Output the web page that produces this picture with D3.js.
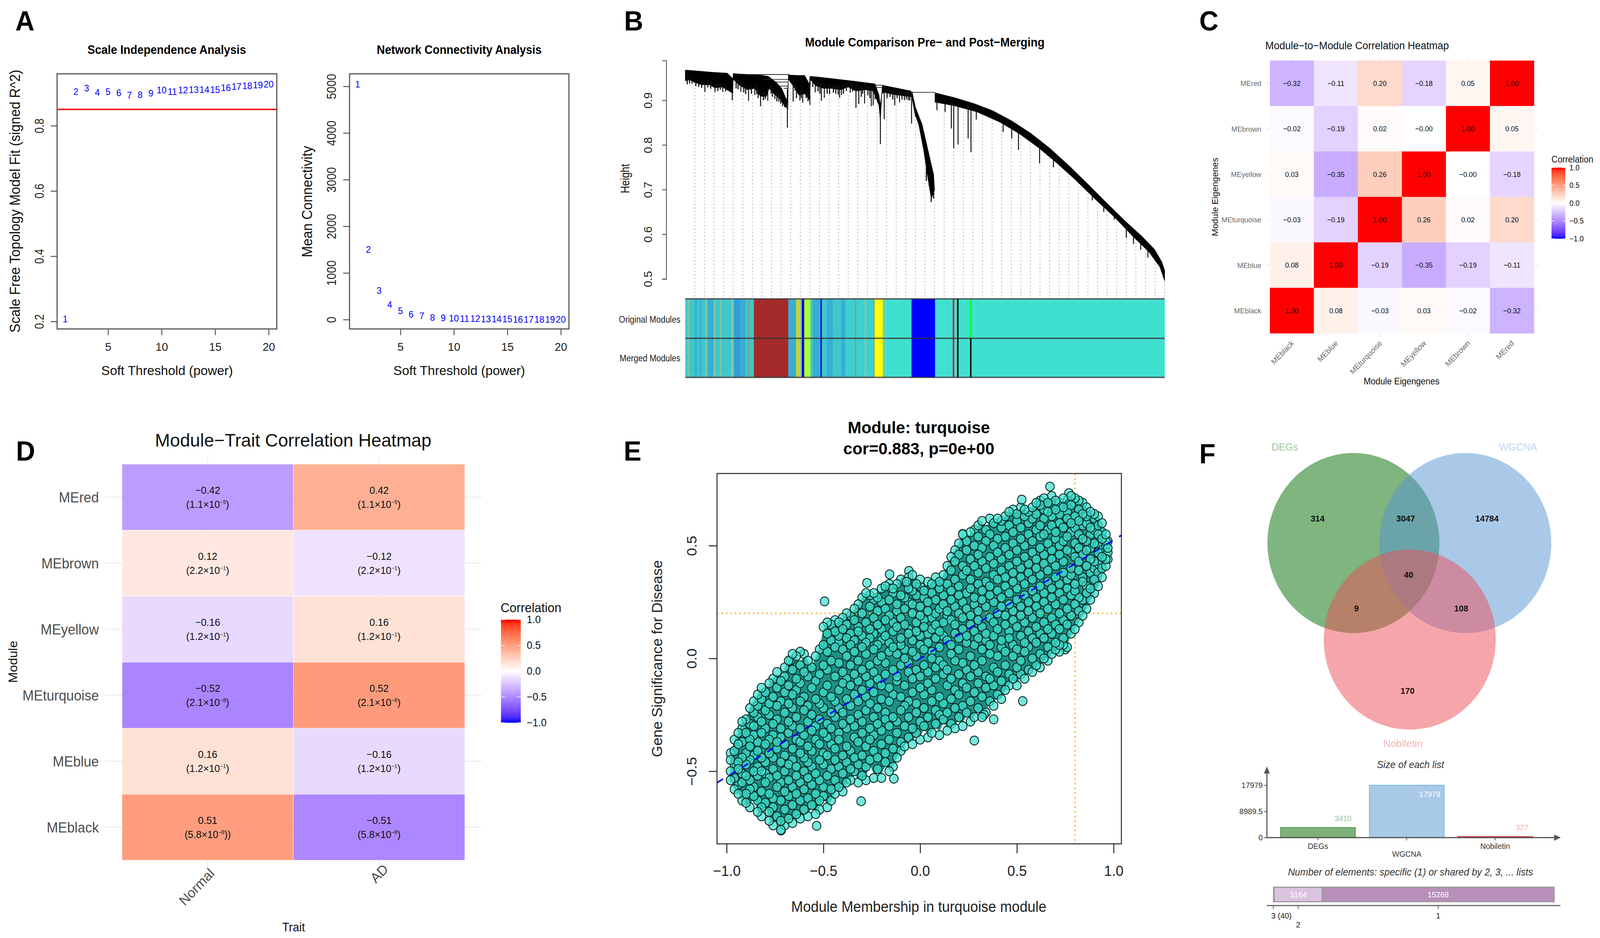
<!DOCTYPE html>
<html><head><meta charset="utf-8">
<script src="https://d3js.org/d3.v7.min.js"></script>
<style>html,body{margin:0;padding:0;background:#fff;overflow:hidden;width:100vw;height:100vh}svg{display:block;width:100vw;height:100vh}text{font-family:"Liberation Sans",Arial,sans-serif}</style>
</head><body><svg id="c" viewBox="0 0 4289 2401" preserveAspectRatio="none"></svg>
<script>
/* ---------- DATA ---------- */
const powers=d3.range(1,21);
const scaleFit=[.207,.905,.915,.902,.904,.901,.894,.895,.900,.909,.904,.909,.910,.911,.911,.917,.920,.923,.925,.927];
const meanConn=[5047,1507,622,320,188,115,78,47,35,28,22,17,14,11,9,8,6,5,4,4];
const fitCut=.85;
// dendrogram envelope: [gene-order %, height]
const forestTop=[[0,.968],[5.8,.963],[8.8,.961],[9.9,.9486],[10,.960],[13.4,.958],[16.1,.956],[17.3,.954],[18.9,.941],[20.1,.927],[21.3,.897],[21.4,.880],[21.5,.957],[23.3,.956],[24.9,.956],[25.9,.936],[26,.954],[28,.952],[35.2,.943],[39.6,.937],[40.4,.912],[40.7,.889],[41,.918],[41.1,.934],[47.1,.921]];
const forestBottom=[[0,.944],[1,.946],[1.8,.941],[3.4,.935],[5,.935],[6.2,.928],[7.8,.930],[9,.922],[9.9,.916],[10,.947],[11.4,.933],[13,.924],[14.5,.927],[15.7,.909],[16.9,.909],[17.5,.927],[18.5,.915],[19.7,.903],[21.1,.883],[21.5,.947],[22.5,.933],[23.7,.912],[24.9,.915],[26,.900],[26.1,.947],[27.2,.933],[28.8,.927],[30.4,.927],[32.4,.924],[34,.930],[35.6,.921],[37.6,.924],[39.2,.921],[40.4,.889],[40.7,.854],[41,.915],[41.5,.918],[43.1,.914],[47.1,.908]];
const fallTop=[[47.3,.920],[48,.885],[49.4,.846],[50.6,.790],[51.8,.734],[52,.700]];
const fallBottom=[[47.3,.905],[47.9,.870],[48.7,.846],[49.7,.790],[50.5,.734],[51.3,.680],[51.7,.690],[52,.700]];
const treeTop=[[52.1,.917],[56.2,.906],[60.2,.893],[64.1,.877],[68.1,.854],[72.1,.826],[76,.793],[80,.754],[84,.712],[87.9,.670],[91.9,.628],[95.1,.597],[97.9,.566],[99.4,.538],[100,.519]];
const treeBottom=[[52.1,.896],[56.2,.888],[60.9,.874],[65.7,.851],[69.6,.826],[73.6,.795],[77.6,.759],[81.6,.720],[85.6,.678],[89.5,.639],[93.5,.594],[96.7,.561],[99,.527],[100,.496]];
const branchSpikes=[[1.4,.937],[4.1,.919],[6.2,.919],[7.8,.919],[9.8,.900],[11.6,.919],[13.2,.899],[14.5,.912],[15.7,.887],[17.2,.899],[18.7,.903],[19.5,.897],[20.3,.887],[21.3,.839],[22.5,.897],[23.9,.900],[24.5,.895],[26,.890],[27.1,.918],[28.4,.899],[29,.906],[32.2,.906],[32.6,.912],[34.4,.917],[35.6,.883],[36.2,.892],[37.4,.893],[38.8,.887],[39.2,.889],[40.7,.802],[41.5,.858],[43.7,.889],[44.7,.896],[45.7,.900],[46.5,.900],[47.2,.848],[48,.864],
 [52.5,.878],[54.2,.874],[55.5,.837],[56,.793],[56.9,.801],[59,.815],[59.6,.784],[60.7,.857],[66.3,.829],[68.1,.815],[69.5,.789],[73.9,.759],[76.8,.750],[84.9,.676],[87.3,.650],[89.5,.633],[92,.592],[93.5,.578],[95,.565],[96.5,.548]];
const fineSpikes=[[.4,.936],[.9,.938],[2.2,.932],[2.8,.930],[3.4,.928],[4.7,.929],[5.3,.926],[6.8,.921],[7.3,.924],[8.4,.920],[10.6,.927],[11,.925],[12.2,.918],[12.6,.914],[13.8,.915],[14.9,.914],[15.2,.905],[16.3,.900],[16.7,.903],[17.9,.915],[18.2,.908],[19.1,.898],[19.9,.893],[20.7,.885],[22.9,.922],[23.2,.905],[24.2,.905],[25.2,.905],[25.6,.898],[26.6,.930],[27.7,.920],[28.1,.915],[29.6,.915],[30.1,.914],[30.9,.917],[31.4,.915],[31.9,.913],[33,.915],[33.6,.921],[34.9,.920],[36.7,.908],[37,.915],[38.1,.912],[38.5,.905],[39.6,.903],[42.1,.905],[42.7,.908],[43.3,.902],[44.2,.905],[45.2,.902],[46.1,.903],[46.8,.900],[50.3,.72],[50.9,.708],[51.3,.672],[51.8,.68]];
const mergeBars=[[9.9,21.7,.958],[16.1,21.5,.947],[18.9,21.5,.941],[19.7,21.5,.932],[20.5,21.5,.927],[39.5,41.1,.934],[39.5,41.1,.929],[47.3,52.1,.918]];
const guidePct=d3.range(2,101,2);
const moduleEnds=[.5,.8,2,2.4,3,3.3,4.2,4.6,5.9,6.3,7.2,7.5,9.5,10.1,11.5,12.5,13.1,13.4,14.3,21.5,23.1,24,24.3,24.8,26.1,26.6,28.2,28.5,29.5,30.8,32.5,33.4,35.4,35.7,37.4,37.8,39.3,39.5,41.2,41.6,47.2,52.1,55.8,56.1,56.7,57,59.4,59.7,100];
const moduleNames=["mixA","olive","mixA","mixB","mixA","mixB","mixA","olive","mixB","olive","mixA","olive","mixA","olive","mixC","mixB","mixA","grey","mixA","brown","mixB","ylw2","olive","blue","greenyellow","mixA","mixB","blue","mixA","mixB","mixA","mixB","turq2","grey","turq2","olive","turq2","grey","yellow","olive","turquoise","blue","turquoise","red","turquoise","black","turquoise","green","turquoise"];
const moduleColor={turquoise:"#40E0D0",turq2:"#3cd0cf",mixA:"#3fc7cc",mixB:"#37aed4",mixC:"#2f9fd8",olive:"#7fc8a8",grey:"#7f9f90",brown:"#A52A2A",yellow:"#FFFF00",ylw2:"#c5d43a",greenyellow:"#ADFF2F",blue:"#0000FF",red:"#FF0000",black:"#000000",green:"#00FF00"};

const mods=["MEblack","MEblue","MEturquoise","MEyellow","MEbrown","MEred"];
const modsTop=["MEred","MEbrown","MEyellow","MEturquoise","MEblue","MEblack"];
const moduleCorr=[[-.32,-.11,.20,-.18,.05,1],[-.02,-.19,.02,-.001,1,.05],[.03,-.35,.26,1,-.001,-.18],[-.03,-.19,1,.26,.02,.20],[.08,1,-.19,-.35,-.19,-.11],[1,.08,-.03,.03,-.02,-.32]];
const traits=["Normal","AD"];
const traitCorr=[-.42,.12,-.16,-.52,.16,.51];
const traitP=["1.1","2.2","1.2","2.1","1.2","5.8"];
const traitExp=["5","1","1","8","1","8"];
const legendTicks=[-1,-.5,0,.5,1];

// E: gene significance (hundredths) per module-membership column (hundredths)
const mmColumns=[-98,-96,-94,-92,-90,-88,-86,-84,-82,-80,-78,-76,-74,-72,-70,-68,-66,-64,-62,-60,-58,-56,-54,-52,-50,-48,-46,-44,-42,-40,-38,-36,-34,-32,-30,-28,-26,-24,-22,-20,-18,-16,-14,-12,-10,-8,-6,-4,-2,0,2,4,6,8,10,12,14,16,18,20,22,24,26,28,30,32,34,36,38,40,42,44,46,48,50,52,54,56,58,60,62,64,66,68,70,72,74,76,78,80,82,84,86,88,90,92,94,96,97];
const gsByColumn=[
[-54,-50,-45,-42],[-58,-53,-47,-41,-36],[-60,-56,-49,-46,-38,-33],[-63,-55,-51,-44,-37,-31,-28],[-64,-60,-52,-47,-42,-33,-27],[-66,-58,-54,-45,-39,-36,-29,-22],[-61,-57,-50,-43,-34,-30,-24,-19],[-68,-63,-52,-48,-41,-37,-26,-21,-16],[-70,-66,-59,-50,-44,-33,-28,-18,-13],[-64,-55,-51,-46,-38,-31,-23,-15],
[-72,-68,-60,-53,-42,-36,-25,-20,-11],[-74,-66,-62,-49,-44,-34,-29,-17,-9],[-70,-57,-52,-40,-37,-27,-21,-13,-6],[-76,-72,-63,-55,-46,-35,-31,-19,-10],[-74,-67,-59,-50,-43,-38,-24,-15,-8,-4],[-71,-61,-54,-47,-33,-28,-20,-12,-1],[-73,-65,-57,-45,-40,-30,-22,-16,-5,2],[-69,-60,-52,-48,-36,-26,-14,-9,1],[-71,-63,-55,-42,-37,-31,-19,-11,-3],[-67,-58,-50,-44,-34,-23,-17,-6,2],
[-70,-62,-53,-46,-39,-28,-21,-8,-1],[-65,-56,-48,-41,-32,-25,-13,-4],[-69,-60,-51,-36,-30,-18,-10,1],[-67,-63,-54,-45,-38,-27,-20,-7,4],[-61,-57,-47,-42,-33,-22,-15,-3,6,14],[-66,-52,-43,-35,-29,-12,-5,3,11,16],[-63,-58,-49,-38,-31,-24,-17,-1,8,15],[-60,-54,-45,-40,-26,-19,-8,5,12,17],[-57,-48,-36,-33,-22,-14,-2,7,10,16],[-59,-51,-43,-29,-24,-11,-6,4,13,18],
[-55,-46,-39,-31,-18,-9,1,9,15,20],[-54,-49,-41,-27,-21,-12,-3,6,11,19],[-50,-44,-35,-30,-16,-7,3,8,17,22],[-55,-47,-37,-25,-19,-10,-1,12,14,24],[-52,-43,-33,-28,-14,-5,5,10,20,27],[-54,-48,-39,-23,-17,-8,2,7,16,29],[-45,-36,-31,-20,-11,-3,9,13,23,28],[-53,-41,-34,-26,-15,-6,4,11,18,26],[-49,-44,-29,-22,-9,-1,6,15,21,27],[-53,-38,-32,-18,-12,1,8,13,25,31],
[-46,-42,-27,-24,-7,-2,10,17,22,32],[-50,-36,-30,-19,-13,3,7,19,26,33],[-48,-40,-26,-16,-5,5,12,16,29,31],[-44,-33,-28,-10,-8,2,14,21,24,33],[-41,-37,-23,-17,-3,6,9,18,28,35],[-39,-30,-21,-12,0,4,15,22,27,34],[-35,-26,-19,-6,-2,11,13,25,31,36],[-38,-31,-15,-9,3,8,20,24,30,37],[-33,-24,-20,-5,1,12,16,28,33],[-36,-28,-13,-8,6,10,19,23,32,35],
[-30,-22,-16,-3,4,14,17,27,30],[-35,-26,-11,-6,7,11,21,25,34],[-33,-19,-14,0,3,13,18,29,33],[-29,-23,-9,-4,9,15,20,26,36],[-34,-25,-17,-1,5,12,22,31,34],[-27,-20,-7,-3,10,16,24,28,37],[-32,-24,-12,-5,8,19,21,33,41],[-29,-18,-9,2,6,17,26,30,39,45],[-31,-22,-14,-1,11,15,23,35,43,48],[-26,-16,-7,4,9,20,28,32,46,51],
[-30,-21,-11,-2,13,18,25,37,41,55],[-24,-13,-5,7,10,22,29,39,48,52],[-28,-19,-8,1,15,19,31,35,44,56],[-26,-15,-3,6,12,24,27,41,50,57],[-22,-11,-6,9,17,21,33,38,46,54,59],[-26,-17,-1,4,14,26,30,43,49,61],[-24,-13,-8,8,11,23,34,40,52,57],[-19,-9,2,6,18,28,32,45,55,62],[-21,-12,-4,10,16,25,37,42,50,60],[-16,-6,1,13,20,30,35,47,53,62],
[-18,-10,5,8,23,27,39,44,58,61],[-14,-3,3,15,19,32,36,49,54,63],[-12,-7,9,12,24,29,41,46,59,65],[-9,1,6,17,21,34,38,51,56,66],[-12,-4,4,14,26,31,43,48,61,64],[-7,-1,10,19,23,36,40,53,58,67],[-9,3,7,16,28,33,45,50,63,66],[-5,5,12,21,25,38,42,55,60,65],[-6,0,9,18,30,35,47,52,62,67],[-3,7,14,23,27,40,44,57,64,69],
[-4,2,11,20,32,37,49,54,59,68,70],[0,9,16,25,29,42,46,55,62,66,71],[-1,5,13,22,34,39,51,57,65,69],[2,11,18,27,31,44,48,59,63,72],[4,7,15,24,36,41,53,56,66,70],[3,13,20,29,33,46,50,60,64,69],[6,9,17,26,38,43,52,58,67,71],[5,15,22,31,35,48,54,62,65,70],[11,19,28,37,40,47,56,60,68,72],[13,24,30,33,45,51,58,63,69,71],
[16,21,27,39,43,49,55,61,66,70],[19,26,34,36,46,53,59,64,69],[22,29,32,41,48,52,60,63,67],[26,31,38,44,49,55,58,65],[29,35,40,43,51,57,62,64],[32,38,42,47,50,55,59,63],[36,40,45,48,53,56,60],[41,44,47,50,52,55],[44,47,49,52]];
const gsOutliers=[[67.1,76.2],[52.5,70.4],[-49.4,25.3],[-30.5,-63.3],[-53.5,-74.2],[-71.9,-76.3],[28,-36.4],[-13.6,-53.3],[53,-18.9],[-62,3],[-67,-.9],[-15.8,37.3],[-27.5,33.5],[-5.8,38.8],[22,55.2],[76.9,73.3],[-15,31],[-24,29],[-7,34],[75,4],[72,6],[38,-27],[33,-25]];
const fitLine=[[-1.05,-.551],[1.04,.546]];
const guideMM=.8,guideGS=.2;

const vennSets=["DEGs","WGCNA","Nobiletin"];
const listSizes=[3410,17979,327];
const overlapCounts=[40,3164,15268];
const overlapTicks=["3 (40)","2","1"];
const vennCounts=[314,3047,14784,40,9,108,170];

/* ---------- HELPERS ---------- */
const svg=d3.select("#c");
svg.append("rect").attr("width",4289).attr("height",2401).attr("fill","#fff");
function T(p,o){
  const e=p.append("text").attr("transform",`translate(${o.x},${o.y})`+(o.r?` rotate(${o.r})`:""))
   .attr("font-size",o.s).attr("text-anchor",o.a||"middle").attr("fill",o.f||"#000").text(o.t);
  if(o.w)e.attr("font-weight","bold");
  if(o.i)e.attr("font-style","italic");
  if(o.l)e.attr("textLength",o.l).attr("lengthAdjust","spacingAndGlyphs");
  return e;
}
[["A",41,78],["B",1673,78],["C",3215,78],["D",43,1179],["E",1672,1179],["F",3215,1186]].forEach(d=>T(svg,{x:d[1],y:d[2],t:d[0],s:71,w:1,a:"start"}));
const corrColor=v=>v<0?d3.interpolateLab("#ffffff","#0000ff")(-v):d3.interpolateLab("#ffffff","#ff0000")(v);
const sgn=v=>(v<0?"\u2212":"")+Math.abs(v).toFixed(2);

/* ---------- A ---------- */
function rAxes(g,x,y,yt,ybase,box){
  const [L,R,Tp,B]=box;
  const ax=g.append("g").attr("transform",`translate(0,${B})`).call(d3.axisBottom(x).tickValues([5,10,15,20]).tickSize(16).tickFormat(d3.format("d")));
  ax.select(".domain").remove();
  ax.selectAll("line").attr("stroke","#555").attr("stroke-width",2.5);
  ax.selectAll("text").attr("y",56).attr("dy",0).attr("font-size",30).attr("font-family","Liberation Sans").attr("fill","#222");
  const ay=g.append("g").attr("transform",`translate(${L},0)`).call(d3.axisLeft(y).tickValues(yt).tickSize(17));
  ay.select(".domain").remove();
  ay.selectAll("line").attr("stroke","#555").attr("stroke-width",2.5);
  ay.selectAll("text").attr("x",0).attr("dy",0).attr("y",ybase-L).attr("transform","rotate(-90)").attr("text-anchor","middle").attr("font-size",34).attr("font-family","Liberation Sans").attr("fill","#222");
  g.append("rect").attr("x",L).attr("y",Tp).attr("width",R-L).attr("height",B-Tp).attr("fill","none").attr("stroke","#555").attr("stroke-width",3);
  return ay;
}
{
 const g=svg.append("g");
 const x1=d3.scaleLinear([.24,20.76],[153,742]),y1=d3.scaleLinear([.177,.959],[842,189]);
 const ay=rAxes(g,x1,y1,[.2,.4,.6,.8],117,[153,742,189,842]);
 ay.selectAll("text").attr("textLength",38).attr("lengthAdjust","spacingAndGlyphs");
 g.append("line").attr("x1",153).attr("x2",742).attr("y1",y1(fitCut)).attr("y2",y1(fitCut)).attr("stroke","#f00").attr("stroke-width",3.5);
 g.selectAll(".p").data(powers).join("text").attr("x",d=>x1(d)).attr("y",(d,i)=>y1(scaleFit[i])+8.5).attr("text-anchor","middle").attr("font-size",24).attr("fill","#0000ff").text(d=>d);
 T(g,{x:447,y:138,t:"Scale Independence Analysis",s:32,w:1,l:425});
 T(g,{x:448,y:960,t:"Soft Threshold (power)",s:33,l:353,f:"#111"});
 T(g,{x:53,y:515,r:-90,t:"Scale Free Topology Model Fit (signed R^2)",s:38,l:673,f:"#111"});

 const x2=d3.scaleLinear([.24,20.76],[937,1525]),y2=d3.scaleLinear([-201,5268],[842,189]);
 const ay2=rAxes(g,x2,y2,[0,1000,2000,3000,4000,5000],901,[937,1525,189,842]);
 ay2.selectAll("text").text(d=>d).attr("textLength",d=>d?65:16).attr("lengthAdjust","spacingAndGlyphs");
 g.selectAll(".q").data(powers).join("text").attr("x",d=>x2(d)).attr("y",(d,i)=>y2(meanConn[i])+8.5).attr("text-anchor","middle").attr("font-size",24).attr("fill","#0000ff").text(d=>d);
 T(g,{x:1231,y:138,t:"Network Connectivity Analysis",s:32,w:1,l:442});
 T(g,{x:1231,y:960,t:"Soft Threshold (power)",s:33,l:353,f:"#111"});
 T(g,{x:837,y:516,r:-90,t:"Mean Connectivity",s:38,l:285,f:"#111"});
}

/* ---------- B ---------- */
{
 const g=svg.append("g");
 const X=d3.scaleLinear([0,100],[1837,3122]),Y=d3.scaleLinear([.5,.9],[714,257]);
 const allBottom=forestBottom.concat(treeBottom);
 const at=(arr,p)=>{const i=d3.bisector(d=>d[0]).left(arr,p);const a=arr[Math.max(0,i-1)],b=arr[Math.min(arr.length-1,i)];if(a===b)return a[1];return a[1]+(b[1]-a[1])*(p-a[0])/(b[0]-a[0]);};
 const floor=p=>p>47.3&&p<52.1?at(fallBottom,p):at(allBottom,p);
 g.selectAll(".g").data(guidePct).join("line").attr("x1",d=>X(d)).attr("x2",d=>X(d)).attr("y1",759)
  .attr("y2",d=>Y(floor(d))).attr("stroke","#aaa").attr("stroke-width",2).attr("stroke-dasharray","3 6");
 const poly=d3.line().x(d=>X(d[0])).y(d=>Y(d[1]));
 [[forestTop,forestBottom],[fallTop,fallBottom],[treeTop,treeBottom]].forEach(([a,b])=>{
  g.append("path").attr("d",poly(a.concat(b.slice().reverse()))+"Z").attr("fill","#000").attr("stroke","#000").attr("stroke-width",1.2).attr("stroke-linejoin","round");
 });
 g.selectAll(".f").data(fineSpikes).join("line").attr("x1",d=>X(d[0])).attr("x2",d=>X(d[0])).attr("y1",d=>Y(floor(d[0])+.01)).attr("y2",d=>Y(d[1])).attr("stroke","#111").attr("stroke-width",3);
 g.selectAll(".s").data(branchSpikes).join("line").attr("x1",d=>X(d[0])).attr("x2",d=>X(d[0])).attr("y1",d=>Y(floor(d[0])+.01)).attr("y2",d=>Y(d[1])).attr("stroke","#111").attr("stroke-width",2.6);
 g.selectAll(".m").data(mergeBars).join("line").attr("x1",d=>X(d[0])).attr("x2",d=>X(d[1])).attr("y1",d=>Y(d[2])).attr("y2",d=>Y(d[2])).attr("stroke","#222").attr("stroke-width",1.8);
 const ay=g.append("g").attr("transform","translate(1786,0)").call(d3.axisLeft(d3.scaleLinear([.5,.989],[714,155])).tickValues([.5,.6,.7,.8,.9]).tickSize(11).tickFormat(d3.format(".1f")));
 ay.selectAll(".domain").attr("stroke","#444").attr("stroke-width",2);
 ay.selectAll("line").attr("stroke","#444").attr("stroke-width",2);
 ay.selectAll("text").attr("x",0).attr("dy",0).attr("y",-38).attr("transform","rotate(-90)").attr("text-anchor","middle").attr("font-size",30).attr("font-family","Liberation Sans").attr("fill","#222");
 const rows=[[765,866,n=>n],[866,966,n=>n==="green"?"black":n]];
 rows.forEach(([y0,y1,f])=>{
  g.append("g").selectAll("rect").data(moduleEnds).join("rect").attr("x",(d,i)=>X(i?moduleEnds[i-1]:0)).attr("width",(d,i)=>X(d)-X(i?moduleEnds[i-1]:0)+.4)
   .attr("y",y0).attr("height",y1-y0).attr("fill",(d,i)=>moduleColor[f(moduleNames[i])]);
 });
 [765,866,966].forEach(y=>g.append("line").attr("x1",X(0)).attr("x2",X(100)).attr("y1",y).attr("y2",y).attr("stroke","#333").attr("stroke-opacity",.8).attr("stroke-width",3.5));
 T(g,{x:2479,y:119,t:"Module Comparison Pre\u2212 and Post\u2212Merging",s:32,w:1,l:642});
 T(g,{x:1687,y:457,r:-90,t:"Height",s:32,l:75,f:"#111"});
 T(g,{x:1824,y:826,a:"end",t:"Original Modules",s:24,l:165,f:"#222"});
 T(g,{x:1824,y:925,a:"end",t:"Merged Modules",s:24,l:163,f:"#222"});
}

/* ---------- heatmap legend ---------- */
let gradN=0;
function legend(g,x0,x1,y0,y1,fs,tx,title,ttx,tty,ttw,tts){
 const id="grad"+(gradN++);
 const gr=svg.append("defs").append("linearGradient").attr("id",id).attr("x1",0).attr("x2",0).attr("y1",1).attr("y2",0);
 d3.range(0,1.001,.05).forEach(t=>gr.append("stop").attr("offset",t).attr("stop-color",corrColor(t*2-1)));
 g.append("rect").attr("x",x0).attr("y",y0).attr("width",x1-x0).attr("height",y1-y0).attr("fill",`url(#${id})`);
 const s=d3.scaleLinear([-1,1],[y1,y0]);
 const a=g.append("g").attr("transform",`translate(${x1},0)`).call(d3.axisRight(s).tickValues(legendTicks).tickSize(0).tickPadding(tx-x1).tickFormat(d3.format(".1f")));
 a.select(".domain").remove();
 a.selectAll("text").attr("font-size",fs).attr("font-family","Liberation Sans").attr("fill","#111");
 g.selectAll(".lt").data(legendTicks).join("line").attr("x1",x0).attr("x2",x0+(x1-x0)/5).attr("y1",d=>s(d)).attr("y2",d=>s(d)).attr("stroke","#fff").attr("stroke-width",1.5);
 g.selectAll(".lt2").data(legendTicks).join("line").attr("x2",x1).attr("x1",x1-(x1-x0)/5).attr("y1",d=>s(d)).attr("y2",d=>s(d)).attr("stroke","#fff").attr("stroke-width",1.5);
 T(g,{x:ttx,y:tty,a:"start",t:title,s:tts,l:ttw,f:"#111"});
}

/* ---------- C ---------- */
{
 const g=svg.append("g");
 const x=d3.scaleBand(mods,[3404,4112]),y=d3.scaleBand(modsTop,[155,853]);
 mods.forEach(m=>g.append("line").attr("x1",x(m)+x.bandwidth()/2).attr("x2",x(m)+x.bandwidth()/2).attr("y1",146).attr("y2",862).attr("stroke","#ececec").attr("stroke-width",2));
 modsTop.forEach(m=>g.append("line").attr("y1",y(m)+y.bandwidth()/2).attr("y2",y(m)+y.bandwidth()/2).attr("x1",3392).attr("x2",4124).attr("stroke","#ececec").attr("stroke-width",2));
 const rows=g.selectAll(".r").data(moduleCorr).join("g");
 rows.each(function(row,ri){
  const rg=d3.select(this);
  rg.selectAll("rect").data(row).join("rect").attr("x",(d,i)=>x(mods[i])).attr("y",y(modsTop[ri])).attr("width",x.bandwidth()+.5).attr("height",y.bandwidth()+.5).attr("fill",d=>corrColor(d));
  rg.selectAll("text").data(row).join("text").attr("x",(d,i)=>x(mods[i])+x.bandwidth()/2).attr("y",y(modsTop[ri])+y.bandwidth()/2+7).attr("text-anchor","middle").attr("font-size",18.5).attr("fill","#111").text(d=>sgn(d));
 });
 modsTop.forEach(m=>T(g,{x:3381,y:y(m)+y.bandwidth()/2+7,a:"end",t:m,s:19,f:"#6a6a6a"}));
 mods.forEach(m=>T(g,{x:x(m)+x.bandwidth()/2+7,y:880,a:"end",r:-45,t:m,s:20,f:"#6a6a6a"}));
 T(g,{x:3392,y:126,a:"start",t:"Module\u2212to\u2212Module Correlation Heatmap",s:27,l:492,f:"#111"});
 T(g,{x:3757,y:984,t:"Module Eigengenes",s:24,l:203,f:"#111"});
 T(g,{x:3265,y:504,r:-90,t:"Module Eigengenes",s:24,l:201,f:"#111"});
 legend(g,4159,4196,429,611,19.5,4207,"Correlation",4159,416,112,24);
}

/* ---------- D ---------- */
{
 const g=svg.append("g");
 const x=d3.scaleBand(traits,[327,1246]),y=d3.scaleBand(modsTop,[1188,2202]);
 traits.forEach(m=>g.append("line").attr("x1",x(m)+x.bandwidth()/2).attr("x2",x(m)+x.bandwidth()/2).attr("y1",1171).attr("y2",2221).attr("stroke","#ebebeb").attr("stroke-width",2.5));
 modsTop.forEach(m=>g.append("line").attr("y1",y(m)+y.bandwidth()/2).attr("y2",y(m)+y.bandwidth()/2).attr("x1",281).attr("x2",1291).attr("stroke","#ebebeb").attr("stroke-width",2.5));
 modsTop.forEach((m,ri)=>{
  const cy=y(m)+y.bandwidth()/2;
  traits.forEach((tr,ti)=>{
   const v=ti?-traitCorr[ri]:traitCorr[ri],cx=x(tr)+x.bandwidth()/2;
   g.append("rect").attr("x",x(tr)+.5).attr("y",y(m)+.5).attr("width",x.bandwidth()-1).attr("height",y.bandwidth()-1).attr("fill",corrColor(v));
   T(g,{x:cx,y:cy-9,t:sgn(v),s:26.5,f:"#111"});
   const e=g.append("text").attr("x",cx).attr("y",cy+28).attr("text-anchor","middle").attr("font-size",26.5).attr("fill","#111");
   e.append("tspan").text(`(${traitP[ri]}\u00d710`);
   e.append("tspan").attr("dy",-10).attr("font-size",14).text("\u2212"+traitExp[ri]);
   e.append("tspan").attr("dy",10).text(ri===5&&ti===0?"))":")");
  });
  T(g,{x:265,y:cy+13,a:"end",t:m,s:36.5,f:"#4d4d4d"});
 });
 T(g,{x:577,y:2238,a:"end",r:-45,t:"Normal",s:36,f:"#4d4d4d"});
 T(g,{x:1043,y:2227,a:"end",r:-45,t:"AD",s:36,f:"#4d4d4d"});
 T(g,{x:786,y:1143,t:"Module\u2212Trait Correlation Heatmap",s:47,l:741,f:"#111"});
 T(g,{x:787,y:2384,t:"Trait",s:31,f:"#111"});
 T(g,{x:46,y:1694,r:-90,t:"Module",s:32,l:108,f:"#111"});
 legend(g,1343,1396,1586,1850,27,1412,"Correlation",1342,1567,163,34);
}

/* ---------- E ---------- */
{
 const g=svg.append("g");
 const L=1922,R=3006,Tp=1212,B=2160;
 const x=d3.scaleLinear([-1.05,1.04],[L,R]),y=d3.scaleLinear([-.822,.82],[B,Tp]);
 const pts=[];
 mmColumns.forEach((m,i)=>gsByColumn[i].forEach(v=>pts.push([m/100,v/100])));
 gsOutliers.forEach(d=>pts.push([d[0]/100,d[1]/100]));
 const order=d=>(Math.abs(d[0])*731+Math.abs(d[1])*1373)%1;
 pts.sort((a,b)=>order(a)-order(b));
 g.append("path").attr("d",d3.area().x(d=>x(d/100)).y0((d,i)=>y(d3.min(gsByColumn[i])/100)).y1((d,i)=>y(d3.max(gsByColumn[i])/100)).curve(d3.curveBasis)(mmColumns))
  .attr("fill","#1e9084").attr("stroke","none");
 g.append("line").attr("x1",L).attr("x2",R).attr("y1",y(guideGS)).attr("y2",y(guideGS)).attr("stroke","#f4b942").attr("stroke-width",4).attr("stroke-dasharray","4 8");
 g.append("line").attr("y1",Tp).attr("y2",B).attr("x1",x(guideMM)).attr("x2",x(guideMM)).attr("stroke","#f4b942").attr("stroke-width",4).attr("stroke-dasharray","4 8");
 g.selectAll("circle").data(pts).join("circle").attr("cx",d=>x(d[0])).attr("cy",d=>y(d[1])).attr("r",11.5).attr("fill","#3fe0ce").attr("fill-opacity",.72).attr("stroke","#0b2623").attr("stroke-width",2.2);
 g.append("line").attr("x1",x(fitLine[0][0])).attr("y1",y(fitLine[0][1])).attr("x2",x(fitLine[1][0])).attr("y2",y(fitLine[1][1])).attr("stroke","#0000ff").attr("stroke-width",4).attr("stroke-dasharray","19 20");
 g.append("rect").attr("x",L).attr("y",Tp).attr("width",R-L).attr("height",B-Tp).attr("fill","none").attr("stroke","#222").attr("stroke-width",2.5);
 const ax=g.append("g").attr("transform",`translate(0,${B})`).call(d3.axisBottom(x).tickValues(legendTicks).tickSize(24).tickFormat(d3.format(".1f")));
 ax.select(".domain").remove();
 ax.selectAll("line").attr("stroke","#222").attr("stroke-width",2.5);
 ax.selectAll("text").attr("y",82).attr("dy",0).attr("font-size",37.5).attr("font-family","Liberation Sans").attr("fill","#222");
 const ay=g.append("g").attr("transform",`translate(${L},0)`).call(d3.axisLeft(y).tickValues([-.5,0,.5]).tickSize(22).tickFormat(d3.format(".1f")));
 ay.select(".domain").remove();
 ay.selectAll("line").attr("stroke","#222").attr("stroke-width",2.5);
 ay.selectAll("text").attr("x",0).attr("dy",0).attr("y",1867-L).attr("transform","rotate(-90)").attr("text-anchor","middle").attr("font-size",37.5).attr("font-family","Liberation Sans").attr("fill","#222");
 T(g,{x:2463,y:1109,t:"Module: turquoise",s:42,w:1,l:381});
 T(g,{x:2463,y:1163,t:"cor=0.883, p=0e+00",s:42,w:1,l:405});
 T(g,{x:2463,y:2334,t:"Module Membership in turquoise module",s:38,l:684,f:"#222"});
 T(g,{x:1775,y:1686,r:-90,t:"Gene Significance for Disease",s:38,l:504,f:"#222"});
}

/* ---------- F ---------- */
{
 const g=svg.append("g");
 const circ=[[3628,1390,"#006b00"],[3928,1390,"#5593d1"],[3779,1637,"#ed4d57"]];
 g.selectAll("circle").data(circ).join("circle").attr("cx",d=>d[0]).attr("cy",d=>d[1]).attr("r",230.5).attr("fill",d=>d[2]).attr("fill-opacity",.5);
 T(g,{x:3444,y:1153,t:vennSets[0],s:26.5,l:71,f:"#9cc99c"});
 T(g,{x:4069,y:1153,t:vennSets[1],s:26.5,l:102,f:"#bcd6f2"});
 T(g,{x:3761,y:1912,t:vennSets[2],s:26.5,l:105,f:"#f7b0b5"});
 const vp=[[3532,1335],[3768,1335],[3986,1335],[3776,1479],[3636,1565],[3917,1565],[3773,1776]];
 vp.forEach((p,i)=>T(g,{x:p[0],y:p[1],t:vennCounts[i],s:22.5,w:1,f:"#111"}));
 T(g,{x:3781,y:1966,t:"Size of each list",s:25,i:1,l:180,f:"#333"});
 const yb=d3.scaleLinear([0,17979],[2144,2010]);
 const barF=["#7FB17C","#A9C9E8","#F6A6AB"],barS=["#4f9a4f","#86baec","#d83a3a"];
 const xb=d3.scaleOrdinal(vennSets,[3433,3671,3908]);
 g.selectAll(".b").data(listSizes).join("rect").attr("x",(d,i)=>xb(vennSets[i])).attr("width",200).attr("y",d=>yb(d)).attr("height",d=>2144-yb(d)).attr("fill",(d,i)=>barF[i]).attr("stroke",(d,i)=>barS[i]).attr("stroke-width",2.5);
 const ax=g.append("g").attr("transform","translate(3396,0)").call(d3.axisLeft(yb).tickValues([0,8989.5,17979]).tickSize(8).tickFormat(d=>d));
 ax.select(".domain").remove();ax.selectAll("line").attr("stroke","#555").attr("stroke-width",2);
 ax.selectAll("text").attr("font-size",20.5).attr("font-family","Liberation Sans").attr("fill","#333");
 const arrow=(x1,y1,x2,y2)=>{g.append("line").attr("x1",x1).attr("y1",y1).attr("x2",x2).attr("y2",y2).attr("stroke","#555").attr("stroke-width",3);};
 arrow(3396,2144,3396,1975);arrow(3396,2144,4170,2144);
 g.append("path").attr("d","M3388,1980L3396,1962L3404,1980Z").attr("fill","#555");
 g.append("path").attr("d","M4166,2136L4184,2144L4166,2152Z").attr("fill","#555");
 [[3533,2173],[3771,2193],[4008,2173]].forEach((p,i)=>{
  g.append("line").attr("x1",p[0]).attr("x2",p[0]).attr("y1",2144).attr("y2",2151).attr("stroke","#555").attr("stroke-width",2);
  T(g,{x:p[0],y:p[1],t:vennSets[i],s:20.5,f:"#333"});
 });
 T(g,{x:3623,y:2102,a:"end",t:listSizes[0],s:20.5,f:"#9cc99c"});
 T(g,{x:3861,y:2040,a:"end",t:listSizes[1],s:20.5,f:"#fff"});
 T(g,{x:4097,y:2125,a:"end",t:listSizes[2],s:20.5,f:"#f7b0b5"});
 T(g,{x:3781,y:2241,t:"Number of elements: specific (1) or shared by 2, 3, ... lists",s:25,i:1,l:657,f:"#333"});
 const total=d3.sum(overlapCounts),xs=d3.scaleLinear([0,total],[3414,4166]);
 const fills=["#a89aab","#DCC3DF","#B78FB9"];
 let c=0;const starts=overlapCounts.map(v=>{const s=c;c+=v;return s;});
 g.selectAll(".o").data(overlapCounts).join("rect").attr("x",(d,i)=>xs(starts[i])).attr("width",d=>xs(d)-xs(0)).attr("y",2271).attr("height",37).attr("fill",(d,i)=>fills[i]).attr("stroke","#9a9a9a").attr("stroke-width",3);
 [1,2].forEach(i=>T(g,{x:xs(starts[i]+overlapCounts[i]/2),y:2297,t:overlapCounts[i],s:20.5,f:"#fff"}));
 g.append("line").attr("x1",3396).attr("x2",4183).attr("y1",2318).attr("y2",2318).attr("stroke","#666").attr("stroke-width",3);
 const tx=[3413,xs(starts[1]+overlapCounts[1]/2),xs(starts[2]+overlapCounts[2]/2)];
 tx.forEach(v=>g.append("line").attr("x1",v).attr("x2",v).attr("y1",2318).attr("y2",2327).attr("stroke","#666").attr("stroke-width",2));
 T(g,{x:3435,y:2351,t:overlapTicks[0],s:21,f:"#222"});
 T(g,{x:tx[1],y:2374,t:overlapTicks[1],s:21,f:"#222"});
 T(g,{x:tx[2],y:2351,t:overlapTicks[2],s:21,f:"#222"});
}
</script></body></html>
